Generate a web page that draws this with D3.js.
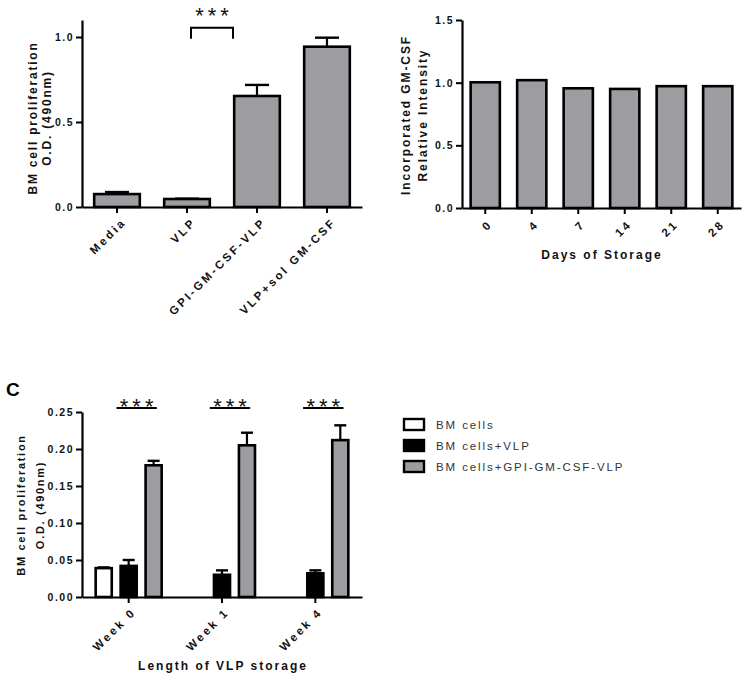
<!DOCTYPE html>
<html><head><meta charset="utf-8">
<script src="https://cdn.jsdelivr.net/npm/d3@7/dist/d3.min.js"></script>
<style>
html,body{margin:0;padding:0;background:#fff;}
svg text{font-family:"Liberation Sans",Arial,sans-serif;}
</style></head>
<body>
<svg id="chart" width="751" height="679"></svg>
<script>
// ---------- DATA ----------
// Panel A
const aCategories = ["Media", "VLP", "GPI-GM-CSF-VLP", "VLP+sol GM-CSF"];
const aValues = [0.076, 0.047, 0.653, 0.943];
const aErrors = [0.012, 0.002, 0.065, 0.053];
const aTicks = [0, 0.5, 1.0];
const aTickLabels = ["0.0", "0.5", "1.0"];
const aYLabel = ["BM cell proliferation", "O.D. (490nm)"];

// Panel B
const bCategories = ["0", "4", "7", "14", "21", "28"];
const bValues = [1.003, 1.02, 0.955, 0.95, 0.972, 0.972];
const bTicks = [0, 0.5, 1.0, 1.5];
const bTickLabels = ["0.0", "0.5", "1.0", "1.5"];
const bYLabel = ["Incorporated GM-CSF", "Relative Intensity"];
const bXLabel = "Days of Storage";

// Panel C
const cGroups = ["Week 0", "Week 1", "Week 4"];
const cSeries = ["BM cells", "BM cells+VLP", "BM cells+GPI-GM-CSF-VLP"];
const cBMcells = [0.039, null, null];
const cBMcellsErr = [0.001, null, null];
const cVLP = [0.042, 0.030, 0.032];
const cVLPErr = [0.008, 0.006, 0.004];
const cGPI = [0.178, 0.205, 0.212];
const cGPIErr = [0.006, 0.017, 0.020];
const cTicks = [0, 0.05, 0.10, 0.15, 0.20, 0.25];
const cTickLabels = ["0.00", "0.05", "0.10", "0.15", "0.20", "0.25"];
const cYLabel = ["BM cell proliferation", "O.D. (490nm)"];
const cXLabel = "Length of VLP storage";
const cSignif = "***";

// ---------- STYLE ----------
const GRAY = "#9d9da1";
const svg = d3.select("#chart");

function styleAxis(g, fs, ls) {
  g.select(".domain").attr("stroke", "#000").attr("stroke-width", 2.2);
  g.selectAll(".tick line").attr("stroke", "#000").attr("stroke-width", 2);
  g.selectAll(".tick text").attr("fill", "#111")
    .style("font-size", fs).style("font-weight", "bold")
    .style("letter-spacing", ls);
}

function yAxis(y, x0, ticks, labels) {
  const g = svg.append("g").attr("transform", `translate(${x0},0)`)
    .call(d3.axisLeft(y).tickValues(ticks).tickFormat((d,i)=>labels[i]).tickSize(6).tickSizeOuter(0).tickPadding(2));
  styleAxis(g, "10.5px", "1.5px");
  return g;
}

function xAxisBand(x, y0, off) {
  const g = svg.append("g").attr("transform", `translate(0,${y0})`)
    .call(d3.axisBottom(x).tickSize(6).tickSizeOuter(0));
  styleAxis(g, "11.5px", "2.6px");
  g.selectAll(".tick text")
    .attr("text-anchor", "end")
    .attr("transform", `translate(${off[0]},${off[1]}) rotate(-45)`)
    .attr("y", 0).attr("x", 0).attr("dy", "0.35em");
  return g;
}

function yTitle(lines, xs, cy, size, ls) {
  lines.forEach((t, i) => {
    svg.append("text").text(t)
      .attr("transform", `translate(${xs[i]},${cy}) rotate(-90)`)
      .attr("text-anchor", "middle")
      .style("font-size", size).style("font-weight", "bold")
      .style("letter-spacing", ls).attr("fill", "#111");
  });
}

function errBars(data, xf, wf, y, capFrac) {
  data.forEach(d => {
    if (d.v == null) return;
    const cx = xf(d) + wf / 2;
    const cap = wf * capFrac;
    svg.append("line").attr("x1", cx).attr("x2", cx)
      .attr("y1", y(d.v)).attr("y2", y(d.v + d.e))
      .attr("stroke", "#000").attr("stroke-width", 2.2);
    svg.append("line").attr("x1", cx - cap/2).attr("x2", cx + cap/2)
      .attr("y1", y(d.v + d.e)).attr("y2", y(d.v + d.e))
      .attr("stroke", "#000").attr("stroke-width", 2.4);
  });
}

function stars(cx, baseline) {
  svg.append("text").text(cSignif).attr("x", cx + 2).attr("y", baseline)
    .attr("text-anchor", "middle").style("font-size", "22px")
    .style("letter-spacing", "4px").attr("fill", "#111");
}

// ---------- PANEL A ----------
(function(){
  const x = d3.scaleBand().domain(aCategories).range([82, 362]).paddingInner(0.314).paddingOuter(0.157);
  const y = d3.scaleLinear().domain([0, 1.1]).range([207, 20]);
  const data = aCategories.map((c,i)=>({c, v:aValues[i], e:aErrors[i]}));
  errBars(data, d=>x(d.c), x.bandwidth(), y, 0.5);
  svg.append("g").selectAll("rect").data(data).join("rect")
    .attr("x", d=>x(d.c)+1.2).attr("width", x.bandwidth()-2.4)
    .attr("y", d=>y(d.v)).attr("height", d=>y(0)-y(d.v))
    .attr("fill", GRAY).attr("stroke", "#000").attr("stroke-width", 2.6);
  yAxis(y, 82, aTicks, aTickLabels);
  xAxisBand(x, 207, [7, 13]);
  yTitle(aYLabel, [37, 51], 118, "12px", "1.8px");
  // significance bracket VLP vs GPI-GM-CSF-VLP
  const x1 = x(aCategories[1]) + x.bandwidth()/2 + 4, x2 = x(aCategories[2]);
  const yb = y(1.055), yl = y(0.99);
  svg.append("path").attr("d", `M${x1},${yl}V${yb}H${x2}V${yl}`)
    .attr("fill", "none").attr("stroke", "#000").attr("stroke-width", 2);
  stars((x1 + x2) / 2, 23);
})();

// ---------- PANEL B ----------
(function(){
  const x = d3.scaleBand().domain(bCategories).range([462, 741]).paddingInner(0.32).paddingOuter(0.16);
  const y = d3.scaleLinear().domain([0, 1.5]).range([208, 20]);
  svg.append("g").selectAll("rect").data(bCategories.map((c,i)=>({c, v:bValues[i]}))).join("rect")
    .attr("x", d=>x(d.c)+1.2).attr("width", x.bandwidth()-2.4)
    .attr("y", d=>y(d.v)).attr("height", d=>y(0)-y(d.v))
    .attr("fill", GRAY).attr("stroke", "#000").attr("stroke-width", 2.6);
  yAxis(y, 462, bTicks, bTickLabels);
  xAxisBand(x, 208, [5, 14]);
  yTitle(bYLabel, [410, 427], 115, "12px", "1.9px");
  svg.append("text").text(bXLabel).attr("x", 602).attr("y", 259)
    .attr("text-anchor", "middle").style("font-size", "12px").style("font-weight", "bold")
    .style("letter-spacing", "2px").attr("fill", "#111");
})();

// ---------- PANEL C ----------
(function(){
  svg.append("text").text("C").attr("x", 6).attr("y", 396)
    .style("font-size", "19px").style("font-weight", "bold").attr("fill", "#000");
  const x0 = d3.scaleBand().domain(cGroups).range([82, 362]).padding(0);
  const x1 = d3.scaleBand().domain(cSeries).range([0, x0.bandwidth()]).paddingInner(0.26).paddingOuter(0.5);
  const y = d3.scaleLinear().domain([0, 0.25]).range([597, 412]);
  const fills = [ "#ffffff", "#000000", GRAY ];
  const vals = [cBMcells, cVLP, cGPI], errs = [cBMcellsErr, cVLPErr, cGPIErr];
  const data = [];
  cGroups.forEach((g, gi) => cSeries.forEach((s, si) => {
    data.push({g, s, si, v: vals[si][gi], e: errs[si][gi]});
  }));
  const shown = data.filter(d => d.v != null);
  errBars(shown, d=>x0(d.g)+x1(d.s), x1.bandwidth(), y, 0.65);
  svg.append("g").selectAll("rect").data(shown).join("rect")
    .attr("x", d=>x0(d.g)+x1(d.s)+1.2).attr("width", x1.bandwidth()-2.4)
    .attr("y", d=>y(d.v)).attr("height", d=>y(0)-y(d.v))
    .attr("fill", d=>fills[d.si]).attr("stroke", "#000").attr("stroke-width", 2.6);
  yAxis(y, 82, cTicks, cTickLabels);
  xAxisBand(x0, 597, [5, 13]);
  yTitle(cYLabel, [25, 44], 505, "11px", "1.7px");
  svg.append("text").text(cXLabel).attr("x", 223).attr("y", 670)
    .attr("text-anchor", "middle").style("font-size", "12px").style("font-weight", "bold")
    .style("letter-spacing", "2px").attr("fill", "#111");
  // significance lines
  cGroups.forEach(g => {
    const xa = x0(g) + x1(cSeries[1]) - 3, xb = x0(g) + x1(cSeries[2]) + x1.bandwidth() - 6;
    svg.append("line").attr("x1", xa).attr("x2", xb).attr("y1", 408).attr("y2", 408)
      .attr("stroke", "#000").attr("stroke-width", 1.8);
    stars((xa + xb) / 2, 414);
  });
  // legend
  const lg = svg.append("g").attr("transform", "translate(404,419)");
  cSeries.forEach((s, i) => {
    lg.append("rect").attr("x", 0).attr("y", i*21).attr("width", 20).attr("height", 11)
      .attr("fill", fills[i]).attr("stroke", "#000").attr("stroke-width", 2.4);
    lg.append("text").text(s).attr("x", 32).attr("y", i*21 + 10)
      .style("font-size", "11.5px").style("letter-spacing", "1.9px").attr("fill", "#333");
  });
})();
</script>
</body></html>
